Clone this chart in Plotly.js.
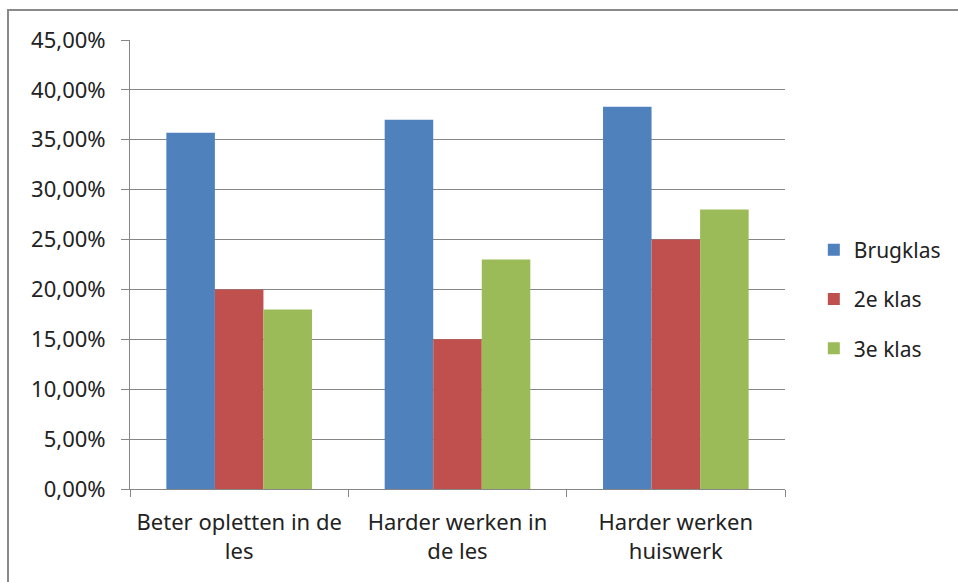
<!DOCTYPE html>
<html>
<head>
<meta charset="utf-8">
<script src="https://cdn.plot.ly/plotly-3.0.1.min.js"></script>
<style>
html,body{margin:0;padding:0;background:#fff;}
#wrap{position:relative;width:958px;height:582px;overflow:hidden;}
#frame{position:absolute;left:7px;top:9px;width:1000px;height:1000px;border-left:2px solid #8a8a8a;border-top:2px solid #8a8a8a;pointer-events:none;}
#chart{position:absolute;left:0;top:0;width:958px;height:582px;}
</style>
</head>
<body>
<div id="wrap">
<div id="chart"></div>
<div id="frame"></div>
</div>
<script>
const categories = ["Beter opletten in de<br>les", "Harder werken in<br>de les", "Harder werken<br>huiswerk"];
const brugklas = [0.357, 0.370, 0.383];
const klas2 = [0.20, 0.15, 0.25];
const klas3 = [0.18, 0.23, 0.28];
const seriesNames = ["Brugklas", "2e klas", "3e klas"];
const colors = ["#4F81BD", "#C0504D", "#9BBB59"];

const values = [brugklas, klas2, klas3];
const traces = values.map((v, i) => ({
  type: "bar",
  x: categories,
  y: v,
  name: seriesNames[i],
  legendgroup: "g" + i,
  marker: {color: colors[i]},
  hoverinfo: "skip"
}));

const layout = {
  width: 958, height: 582,
  margin: {l: 130, r: 171, t: 40, b: 93, pad: 0},
  paper_bgcolor: "rgba(0,0,0,0)",
  plot_bgcolor: "#fff",
  separators: ",.",
  font: {family: "Noto Sans, sans-serif", size: 22, color: "#222"},
  barmode: "group",
  bargap: 0.333,
  bargroupgap: 0,
  showlegend: true,
  legend: {x: 1.044, xanchor: "left", y: 0.423, yanchor: "middle",
           font: {size: 21, color: "#222"}, tracegroupgap: 19, itemwidth: 30},
  xaxis: {
    type: "category",
    showline: true, linecolor: "#868686", linewidth: 1,
    ticks: "outside", ticklen: 7, tickcolor: "#868686", tickson: "boundaries",
    showgrid: false, zeroline: false,
    tickfont: {size: 22, color: "#222"},
    ticklabelstandoff: 14,
    fixedrange: true
  },
  yaxis: {
    range: [0, 0.45], dtick: 0.05, tick0: 0,
    tickformat: ".2%",
    showline: true, linecolor: "#868686", linewidth: 1,
    ticks: "outside", ticklen: 8, tickcolor: "#868686",
    showgrid: true, gridcolor: "#868686", gridwidth: 1,
    zeroline: false,
    tickfont: {size: 22, color: "#222"},
    ticklabelstandoff: 11,
    fixedrange: true
  }
};

Plotly.newPlot("chart", traces, layout, {displayModeBar: false, staticPlot: true});
</script>
</body>
</html>
